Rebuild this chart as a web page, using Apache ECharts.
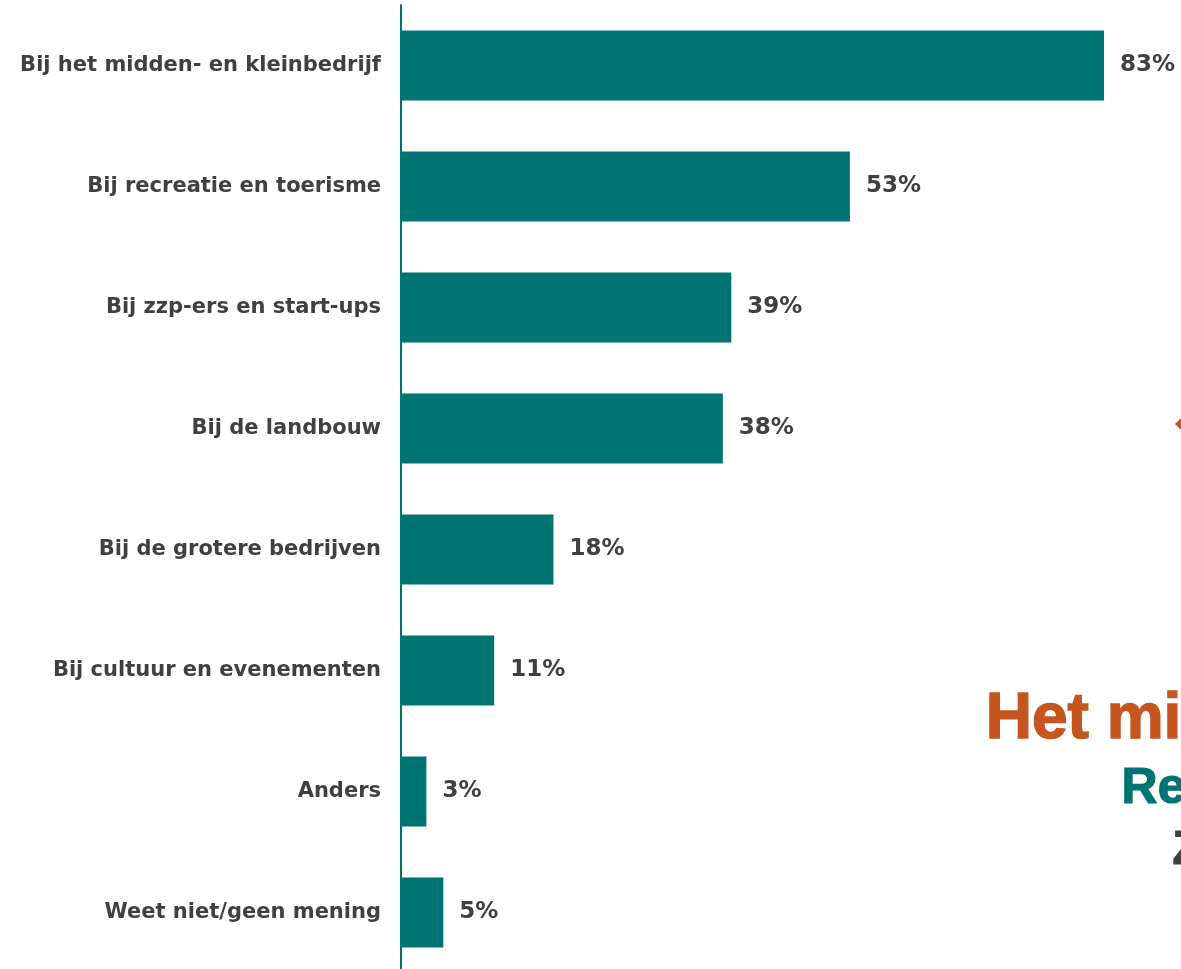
<!DOCTYPE html>
<html><head><meta charset="utf-8">
<script src="https://cdn.jsdelivr.net/npm/echarts@6/dist/echarts.min.js"></script>
<style>html,body{margin:0;padding:0;background:#fff}#c{width:1181px;height:969px}</style>
</head><body><div id="c"></div>
<script>
const categories = ["Bij het midden- en kleinbedrijf","Bij recreatie en toerisme","Bij zzp-ers en start-ups","Bij de landbouw","Bij de grotere bedrijven","Bij cultuur en evenementen","Anders","Weet niet/geen mening"];
const values = [83,53,39,38,18,11,3,5];
const chart = echarts.init(document.getElementById('c'));
chart.setOption({
  animation:false,
  grid:{left:401, top:5, width:847, height:968, containLabel:false, outerBoundsMode:'none'},
  xAxis:{type:'value', min:0, max:100, show:false},
  yAxis:{type:'category', inverse:true, data:categories,
    axisLine:{show:true, lineStyle:{color:'#007373', width:2}},
    axisTick:{show:false},
    axisLabel:{color:'#404040', fontFamily:'DejaVu Sans', fontWeight:'bold', fontSize:21, margin:20}
  },
  graphic:[
    {type:'text', left:985, top:688, style:{text:'Het midden- en kleinbedrijf', fill:'#C5561F', stroke:'#C5561F', lineWidth:1.5, font:'bold 64px "Liberation Sans"'}},
    {type:'text', left:1121, top:764, style:{text:'Recreatie', fill:'#007373', stroke:'#007373', lineWidth:1.2, font:'bold 50px "Liberation Sans"'}},
    {type:'text', left:1172, top:826, style:{text:'Zzp', fill:'#404040', stroke:'#404040', lineWidth:1.2, font:'bold 48px "Liberation Sans"'}},
    {type:'polygon', shape:{points:[[1175,424],[1181,418],[1181,430]]}, style:{fill:'#C5561F'}}
  ],
  series:[{type:'bar', data:values, barWidth:70,
    itemStyle:{color:'#007373'},
    label:{show:true, position:'right', distance:16, formatter:'{c}%', color:'#404040', fontFamily:'DejaVu Sans', fontWeight:'bold', fontSize:23}
  }]
});
</script></body></html>
